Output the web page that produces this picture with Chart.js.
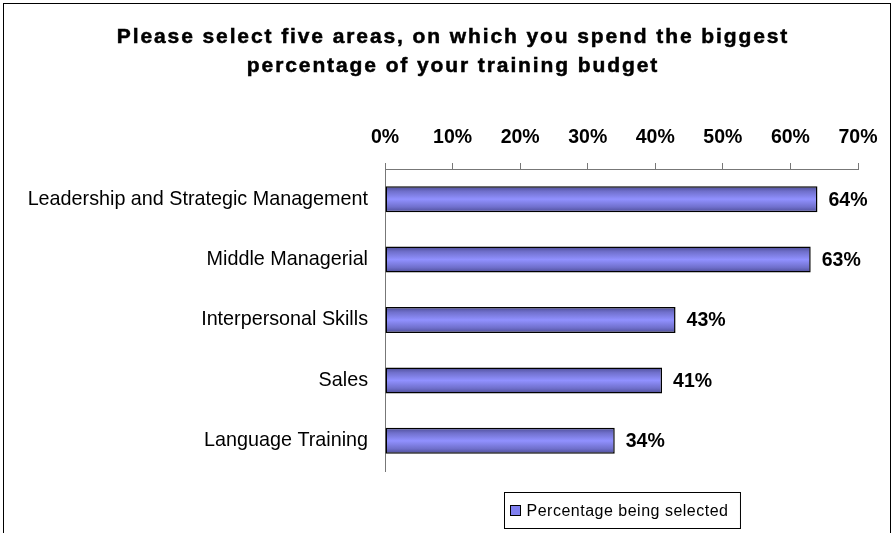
<!DOCTYPE html>
<html>
<head>
<meta charset="utf-8">
<script src="https://cdn.jsdelivr.net/npm/chart.js@4/dist/chart.umd.min.js"></script>
<style>
  html, body { margin: 0; padding: 0; background: #fff; }
  #wrap { position: relative; width: 894px; height: 533px; }
</style>
</head>
<body>
<div id="wrap"><canvas id="budgetChart" width="894" height="533"></canvas></div>
<script>
const titleLines = ['Please select five areas, on which you spend the biggest', 'percentage of your training budget'];
const categories = ['Leadership and Strategic Management', 'Middle Managerial', 'Interpersonal Skills', 'Sales', 'Language Training'];
const selectedPct = [64, 63, 43, 41, 34];
const seriesName = 'Percentage being selected';
const tickMax = 70;
const tickStep = 10;

const FONT = '"Liberation Sans", Arial, Helvetica, sans-serif';
const BAR_PCT = 0.43;

Chart.defaults.font.family = FONT;
Chart.defaults.color = '#000';

// vertical shading across each bar, dark edges and a light middle
function barFill(ctx) {
    const chart = ctx.chart;
    const y = chart.scales.y;
    if (!y || ctx.dataIndex === undefined || !chart.chartArea) return '#9090ff';
    const c = y.getPixelForValue(ctx.dataIndex);
    const half = (y.bottom - y.top) / categories.length * BAR_PCT / 2;
    const g = chart.ctx.createLinearGradient(0, c - half, 0, c + half);
    g.addColorStop(0, '#4c4c96');
    g.addColorStop(0.2, '#7070cc');
    g.addColorStop(0.5, '#9191ff');
    g.addColorStop(0.8, '#7070cc');
    g.addColorStop(1, '#4c4c96');
    return g;
}

const frame = {
    id: 'frame',
    beforeDraw(chart) {
        const ctx = chart.ctx;
        ctx.save();
        ctx.fillStyle = '#fff';
        ctx.fillRect(0, 0, chart.width, chart.height);
        ctx.strokeStyle = '#000';
        ctx.lineWidth = 1;
        ctx.strokeRect(3.5, 3.5, 887, 600);
        ctx.restore();
    }
};

const heading = {
    id: 'heading',
    afterDraw(chart) {
        const ctx = chart.ctx;
        ctx.save();
        ctx.font = 'bold 21px ' + FONT;
        ctx.letterSpacing = '1.9px';
        ctx.fillStyle = '#000';
        ctx.strokeStyle = '#000';
        ctx.lineWidth = 0.5;
        ctx.textAlign = 'center';
        ctx.textBaseline = 'alphabetic';
        titleLines.forEach((line, i) => {
            ctx.fillText(line, 453, 43 + i * 29);
            ctx.strokeText(line, 453, 43 + i * 29);
        });
        ctx.restore();
    }
};

const valueLabels = {
    id: 'valueLabels',
    afterDatasetsDraw(chart) {
        const ctx = chart.ctx;
        const meta = chart.getDatasetMeta(0);
        ctx.save();
        ctx.font = 'bold 19.5px ' + FONT;
        ctx.fillStyle = '#000';
        ctx.textAlign = 'left';
        ctx.textBaseline = 'middle';
        meta.data.forEach((bar, i) => {
            ctx.fillText(selectedPct[i] + '%', bar.x + 11, bar.y + 1);
        });
        ctx.restore();
    }
};

// boxed legend centred under the plot area
const boxLegend = {
    id: 'boxLegend',
    afterDraw(chart) {
        const ctx = chart.ctx;
        const area = chart.chartArea;
        ctx.save();
        ctx.font = '16px ' + FONT;
        ctx.letterSpacing = '0.5px';
        const tw = ctx.measureText(seriesName).width;
        const w = tw + 34;
        const left = Math.round((area.left + area.right) / 2 - w / 2) + 0.5;
        const top = 492.5, h = 36;
        ctx.strokeStyle = '#000';
        ctx.lineWidth = 1;
        ctx.strokeRect(left, top, w, h);
        ctx.fillStyle = '#8080f0';
        ctx.fillRect(left + 6, top + 13, 10, 10);
        ctx.strokeRect(left + 6, top + 13, 10, 10);
        ctx.fillStyle = '#000';
        ctx.textBaseline = 'middle';
        ctx.fillText(seriesName, left + 22, top + h / 2 + 1);
        ctx.restore();
    }
};

new Chart(document.getElementById('budgetChart'), {
    type: 'bar',
    data: {
        labels: categories,
        datasets: [{
            label: seriesName,
            data: selectedPct,
            backgroundColor: barFill,
            borderColor: '#000',
            borderWidth: 1.5,
            borderSkipped: false,
            barPercentage: BAR_PCT,
            categoryPercentage: 1
        }]
    },
    options: {
        indexAxis: 'y',
        responsive: false,
        animation: false,
        layout: { padding: { left: 0, top: 0, right: 36, bottom: 62 } },
        plugins: {
            legend: { display: false },
            title: { display: false },
            tooltip: { enabled: false }
        },
        scales: {
            x: {
                position: 'top',
                min: 0,
                max: tickMax,
                ticks: {
                    stepSize: tickStep,
                    padding: 14,
                    color: '#000',
                    font: { size: 19.5, weight: 'bold' },
                    callback: v => v + '%'
                },
                grid: { drawOnChartArea: false, drawTicks: true, tickLength: 6, color: '#777' },
                border: { display: true, color: '#777', width: 1 },
                afterFit(scale) { scale.height = 169; }
            },
            y: {
                ticks: { padding: 17, color: '#000', font: { size: 19.75 } },
                grid: { display: false, drawTicks: false },
                border: { display: true, color: '#777', width: 1 },
                afterFit(scale) { scale.width = 385; }
            }
        }
    },
    plugins: [frame, heading, valueLabels, boxLegend]
});
</script>
</body>
</html>
